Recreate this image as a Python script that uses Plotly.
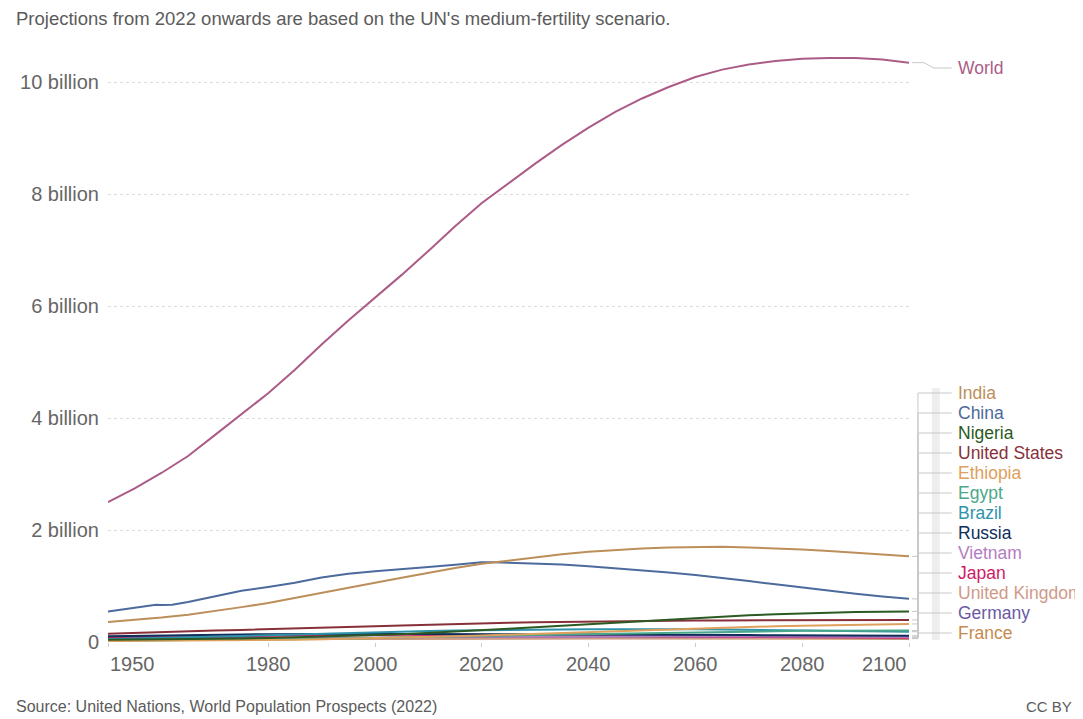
import plotly.graph_objects as go

# ---------------- data (millions) ----------------
years = [1950, 1955, 1960, 1965, 1970, 1975, 1980, 1985, 1990, 1995, 2000, 2005, 2010,
         2015, 2020, 2025, 2030, 2035, 2040, 2045, 2050, 2055, 2060, 2065, 2070, 2075,
         2080, 2085, 2090, 2095, 2100]

world = [2499, 2746, 3019, 3322, 3695, 4070, 4444, 4862, 5316, 5743, 6149, 6558, 6986,
         7427, 7841, 8192, 8546, 8879, 9188, 9468, 9709, 9914, 10092, 10225, 10315, 10380,
         10420, 10431, 10430, 10407, 10349]
india = [357, 393, 436, 488, 550, 623, 697, 784, 870, 963, 1057, 1148, 1241,
         1323, 1396, 1455, 1515, 1566, 1610, 1643, 1670, 1688, 1697, 1700, 1690, 1674,
         1652, 1625, 1595, 1562, 1530]
china_years = [1950, 1955, 1958, 1959, 1960, 1961, 1962, 1965, 1970, 1975, 1980, 1985, 1990,
               1995, 2000, 2005, 2010, 2015, 2020, 2022, 2025, 2030, 2035, 2040, 2045, 2050,
               2055, 2060, 2065, 2070, 2075, 2080, 2085, 2090, 2095, 2100]
china = [544, 608, 655, 665, 662, 658, 665, 716, 822, 916, 982, 1058, 1154,
         1218, 1264, 1298, 1338, 1380, 1424, 1426, 1416, 1403, 1384, 1352, 1318, 1280,
         1240, 1195, 1145, 1090, 1030, 970, 915, 862, 812, 771]
nigeria = [38, 41, 45, 50, 56, 64, 73, 83, 95, 108, 123, 140, 161,
           184, 208, 235, 263, 290, 316, 345, 375, 405, 432, 456, 478, 497,
           513, 525, 535, 541, 546]
united_states = [148, 165, 179, 193, 205, 215, 226, 237, 248, 265, 282, 296, 311,
                 324, 335, 345, 352, 359, 366, 371, 375, 379, 383, 386, 389, 391,
                 392, 393, 393, 394, 394]
ethiopia = [18, 20, 23, 26, 29, 32, 36, 41, 48, 57, 67, 77, 89,
            102, 117, 133, 150, 165, 180, 197, 213, 229, 245, 259, 271, 282,
            291, 300, 310, 317, 323]
egypt = [21, 24, 27, 30, 35, 38, 43, 50, 57, 64, 71, 78, 87,
         97, 108, 117, 125, 134, 142, 151, 160, 169, 177, 184, 190, 195,
         199, 202, 204, 205, 205]
brazil = [53, 62, 72, 83, 95, 108, 122, 136, 150, 163, 175, 187, 196,
          205, 213, 218, 221, 224, 226, 229, 231, 229, 226, 222, 218, 213,
          207, 201, 196, 190, 185]
russia = [102, 111, 119, 126, 130, 134, 139, 143, 148, 148, 146, 144, 143,
          144, 145, 143, 141, 139, 137, 135, 133, 130, 128, 125, 123, 121,
          119, 117, 116, 114, 112]
vietnam = [25, 28, 33, 38, 43, 49, 54, 61, 68, 75, 80, 84, 87,
           92, 97, 100, 103, 105, 107, 107, 107, 106, 104, 102, 100, 98,
           96, 94, 92, 91, 91]
japan = [84, 89, 94, 99, 105, 112, 118, 121, 124, 126, 127, 128, 128,
         127, 125, 122, 118, 115, 111, 108, 104, 100, 96, 92, 89, 85,
         82, 79, 77, 75, 74]
united_kingdom = [50, 51, 52, 54, 56, 56, 56, 57, 57, 58, 59, 61, 63,
                  65, 67, 68, 69, 70, 71, 72, 72, 72, 73, 73, 73, 73,
                  73, 73, 72, 72, 72]
germany = [70, 71, 73, 76, 78, 78, 78, 78, 79, 81, 82, 81, 81,
           82, 83, 83, 83, 82, 81, 80, 79, 78, 77, 75, 74, 72,
           71, 70, 70, 69, 69]
france = [42, 44, 46, 49, 51, 53, 54, 56, 57, 58, 59, 61, 63,
          64, 65, 65, 66, 66, 66, 66, 66, 65, 65, 64, 64, 63,
          63, 62, 61, 61, 60]

countries = ["India", "China", "Nigeria", "United States", "Ethiopia", "Egypt", "Brazil",
             "Russia", "Vietnam", "Japan", "United Kingdom", "Germany", "France"]
country_values = [india, china, nigeria, united_states, ethiopia, egypt, brazil,
                  russia, vietnam, japan, united_kingdom, germany, france]
colors = {"World": "#ab5c86", "India": "#bc8e5a", "China": "#4c6a9c", "Nigeria": "#2b5a22",
          "United States": "#883039", "Ethiopia": "#dea05c", "Egypt": "#4aa88a",
          "Brazil": "#2f93aa", "Russia": "#0f2e5a", "Vietnam": "#b47cc4", "Japan": "#cf1a66",
          "United Kingdom": "#cf9a8a", "Germany": "#6b5aa3", "France": "#c68a4e"}

y_ticks = [0, 2e9, 4e9, 6e9, 8e9, 10e9]
y_tick_text = ["0", "2 billion", "4 billion", "6 billion", "8 billion", "10 billion"]
x_ticks = [1950, 1980, 2000, 2020, 2040, 2060, 2080, 2100]

subtitle = "Projections from 2022 onwards are based on the UN's medium-fertility scenario."
source = "Source: United Nations, World Population Prospects (2022)"

# ---------------- layout constants (pixels, in window coordinates) ----------------
W, H = 1083, 719
OFF = 8                      # default page body margin
PL, PR, PT, PB = 103, 909, 57, 642
YMAX = 10.45e9
FONT = "Liberation Sans, Arial, sans-serif"
GREY = "#666666"


def px_x(px):
    return (px - PL) / (PR - PL)


def px_y(py):
    return (PB - py) / (PB - PT)


fig = go.Figure()
fig.add_trace(go.Scatter(x=years, y=[v * 1e6 for v in world], mode="lines", name="World",
                         line=dict(color=colors["World"], width=2), hoverinfo="skip"))
for name, vals in reversed(list(zip(countries, country_values))):
    xs = china_years if name == "China" else years
    fig.add_trace(go.Scatter(x=xs, y=[v * 1e6 for v in vals], mode="lines", name=name,
                             line=dict(color=colors[name], width=2), hoverinfo="skip"))

shapes = []
annotations = []
conn = dict(color="#c8c8c8", width=1)

# light band beside connectors
shapes.append(dict(type="rect", xref="paper", yref="paper", x0=px_x(932), x1=px_x(940),
                   y0=px_y(640), y1=px_y(388), line=dict(width=0),
                   fillcolor="rgba(205,205,205,0.35)", layer="below"))

# World label
w_end = world[-1] * 1e6 / YMAX
w_lab = px_y(68)
shapes.append(dict(type="path", xref="paper", yref="paper", line=conn,
                   path=f"M {px_x(912)},{w_end} L {px_x(924)},{w_end} L {px_x(934)},{w_lab} L {px_x(952)},{w_lab}"))
annotations.append(dict(text="World", x=px_x(956), y=w_lab, xref="paper", yref="paper",
                        xanchor="left", yanchor="middle", showarrow=False,
                        font=dict(family=FONT, size=17.5, color=colors["World"])))

# country labels
for i, (name, vals) in enumerate(zip(countries, country_values)):
    lab = px_y(393 + 20.0 * i)
    end = vals[-1] * 1e6 / YMAX
    shapes.append(dict(type="path", xref="paper", yref="paper", line=conn,
                       path=f"M {px_x(912)},{end} L {px_x(918)},{end} L {px_x(918)},{lab} L {px_x(952)},{lab}"))
    annotations.append(dict(text=name, x=px_x(956), y=lab, xref="paper", yref="paper",
                            xanchor="left", yanchor="middle", showarrow=False,
                            font=dict(family=FONT, size=17.5, color=colors[name])))

# x tick labels (edge labels aligned inward)
for yr in x_ticks:
    anchor = "left" if yr == x_ticks[0] else ("right" if yr == x_ticks[-1] else "center")
    annotations.append(dict(text=str(yr), x=yr, xref="x", y=px_y(664), yref="paper",
                            xanchor=anchor, yanchor="middle", showarrow=False,
                            font=dict(family=FONT, size=20, color=GREY)))

annotations.append(dict(text=subtitle, x=px_x(8), y=px_y(18), xref="paper", yref="paper",
                        xanchor="left", yanchor="middle", showarrow=False,
                        font=dict(family=FONT, size=18.5, color="#5b5b5b")))
annotations.append(dict(text=source, x=px_x(8), y=px_y(706), xref="paper", yref="paper",
                        xanchor="left", yanchor="middle", showarrow=False,
                        font=dict(family=FONT, size=16, color="#5b5b5b")))
annotations.append(dict(text="CC BY", x=px_x(1075), y=px_y(706), xref="paper", yref="paper",
                        xanchor="right", yanchor="middle", showarrow=False,
                        font=dict(family=FONT, size=15, color="#5b5b5b")))

fig.update_layout(
    width=W - OFF, height=H - OFF,
    margin=dict(l=PL - OFF, r=W - PR, t=PT - OFF, b=H - PB, pad=0),
    paper_bgcolor="white", plot_bgcolor="white",
    showlegend=False,
    shapes=shapes, annotations=annotations,
    xaxis=dict(range=[1950, 2100], tickvals=x_ticks, ticktext=[""] * len(x_ticks),
               ticks="outside", ticklen=4, tickcolor="#cccccc", showgrid=False,
               zeroline=False, showline=False, fixedrange=True),
    yaxis=dict(range=[0, YMAX], tickvals=y_ticks, ticktext=y_tick_text,
               showgrid=True, gridcolor="#dddddd", griddash="dot", gridwidth=1,
               zeroline=False, showline=False, ticks="", ticklabelstandoff=8,
               tickfont=dict(family=FONT, size=20, color=GREY), fixedrange=True),
)

fig.write_html("out.html")
